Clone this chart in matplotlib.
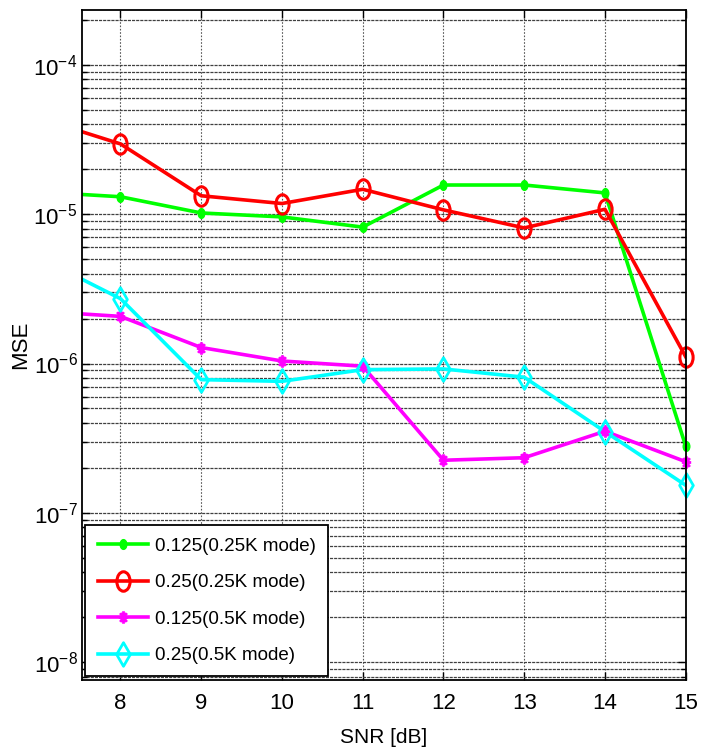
import numpy as np
import matplotlib
matplotlib.use("Agg")
import matplotlib.pyplot as plt
from matplotlib.path import Path
from matplotlib.transforms import Affine2D
from matplotlib.lines import Line2D
from matplotlib.ticker import LogLocator, FixedLocator, FuncFormatter, NullFormatter

plt.rcParams["font.family"] = ["Liberation Sans", "DejaVu Sans"]
plt.rcParams["axes.unicode_minus"] = False

# ---- data -------------------------------------------------------------
snr = [7, 8, 9, 10, 11, 12, 13, 14, 15]
mse_0125_025k = [1.41e-5, 1.31e-5, 1.02e-5, 9.6e-6, 8.2e-6, 1.57e-5, 1.57e-5, 1.39e-5, 2.8e-7]
mse_025_025k = [4.39e-5, 2.96e-5, 1.33e-5, 1.18e-5, 1.47e-5, 1.07e-5, 8.1e-6, 1.08e-5, 1.11e-6]
mse_0125_05k = [2.24e-6, 2.07e-6, 1.28e-6, 1.04e-6, 9.6e-7, 2.25e-7, 2.34e-7, 3.52e-7, 2.2e-7]
mse_025_05k = [5.1e-6, 2.72e-6, 7.8e-7, 7.6e-7, 9.1e-7, 9.2e-7, 8.1e-7, 3.5e-7, 1.53e-7]

labels = ["0.125(0.25K mode)", "0.25(0.25K mode)", "0.125(0.5K mode)", "0.25(0.5K mode)"]
xticks = [8, 9, 10, 11, 12, 13, 14, 15]
x_range = (7.52, 15)
y_range = (10 ** -8.12, 10 ** -3.632)

# ---- marker shapes (narrow, MATLAB-like) ------------------------------
ellipse = Path.unit_circle().transformed(Affine2D().scale(0.68, 1.0))
diamond = Path([(0, 1), (0.58, 0), (0, -1), (-0.58, 0), (0, 1)],
               [Path.MOVETO, Path.LINETO, Path.LINETO, Path.LINETO, Path.CLOSEPOLY])
star_v = []
star_c = []
for ang in (0, 45, 90, 135):
    a = np.deg2rad(ang)
    dx, dy = 0.75 * np.cos(a), np.sin(a)
    star_v += [(-dx, -dy), (dx, dy)]
    star_c += [Path.MOVETO, Path.LINETO]
asterisk = Path(star_v, star_c)

styles = [
    dict(color="#00ff00", marker=ellipse, ms=7, mfc="#00ff00", mew=1.0),
    dict(color="#ff0000", marker=ellipse, ms=14, mfc="none", mew=2.2),
    dict(color="#ff00ff", marker=asterisk, ms=9, mfc="none", mew=2.0),
    dict(color="#00ffff", marker=diamond, ms=17, mfc="none", mew=2.0),
]
series = [mse_0125_025k, mse_025_025k, mse_0125_05k, mse_025_05k]

fig = plt.figure(figsize=(7.08, 7.49), dpi=100)
ax = fig.add_axes([0.1154, 0.0921, 0.8531, 0.8945])
ax.set_yscale("log")
ax.set_xlim(*x_range)
ax.set_ylim(*y_range)

x = np.array(snr, dtype=float)
inside = (x >= x_range[0]) & (x <= x_range[1])
handles = []
for y, st, lab in zip(series, styles, labels):
    y = np.array(y)
    ax.plot(x, y, color=st["color"], lw=2.6, solid_joinstyle="round", zorder=3)
    ax.plot(x[inside], y[inside], ls="none", marker=st["marker"], ms=st["ms"],
            mec=st["color"], mfc=st["mfc"], mew=st["mew"], clip_on=False, zorder=4)
    handles.append(Line2D([], [], color=st["color"], lw=2.6, marker=st["marker"],
                          ms=st["ms"], mec=st["color"], mfc=st["mfc"], mew=st["mew"],
                          label=lab))

# ---- axes, ticks, grid ------------------------------------------------
ax.xaxis.set_major_locator(FixedLocator(xticks))
ax.yaxis.set_major_locator(LogLocator(base=10, numticks=20))
ax.yaxis.set_minor_locator(LogLocator(base=10, subs=np.arange(2, 10), numticks=20))
ax.yaxis.set_minor_formatter(NullFormatter())
ax.yaxis.set_major_formatter(FuncFormatter(
    lambda v, p: r"$\mathregular{10^{%d}}$" % int(round(np.log10(v)))))

ax.grid(True, which="major", axis="x", ls=(0, (1.5, 1.5)), color="0.35", lw=0.8, zorder=0)
ax.grid(True, which="both", axis="y", ls=(0, (2.5, 0.8)), color="0.25", lw=0.9, zorder=0)
ax.set_axisbelow(True)

ax.tick_params(which="both", direction="in", top=True, right=True, colors="black",
               labelsize=16, width=1.0)
ax.tick_params(which="major", length=6, pad=9)
ax.tick_params(axis="y", which="major", pad=3)
ax.tick_params(which="minor", length=3.5)
for sp in ax.spines.values():
    sp.set_linewidth(1.3)
    sp.set_zorder(5)

ax.set_xlabel("SNR [dB]", fontsize=15)
ax.set_ylabel("MSE", fontsize=16)
ax.xaxis.set_label_coords(0.5, -0.072)
ax.yaxis.set_label_coords(-0.083, 0.5)

leg = ax.legend(handles=handles, loc="lower left", fontsize=13.5, frameon=True,
                fancybox=False, framealpha=1, edgecolor="black",
                borderaxespad=0.2, handlelength=2.7, handletextpad=0.35,
                labelspacing=1.03, borderpad=0.65)
leg.get_frame().set_linewidth(1.3)
leg.set_zorder(6)

fig.savefig("out.png", dpi=100, facecolor="white")
